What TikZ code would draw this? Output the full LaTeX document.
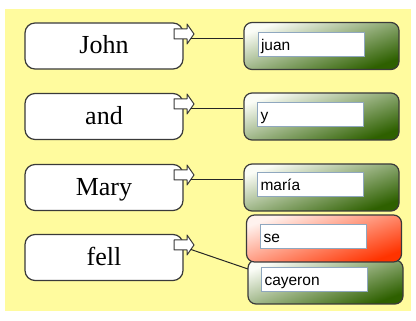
\documentclass[tikz,border=0pt]{standalone}
\usepackage{fontspec}
\setmainfont{Liberation Serif}
\newfontfamily\fieldfont{Liberation Sans}
\definecolor{bgyellow}{RGB}{255,251,158}
\definecolor{boxline}{RGB}{58,58,58}
\definecolor{gdark}{RGB}{46,96,0}
\definecolor{glight}{RGB}{250,252,246}
\definecolor{rdark}{RGB}{255,51,0}
\definecolor{rlight}{RGB}{255,242,238}
\definecolor{fieldline}{RGB}{143,167,191}
\begin{document}
\begin{tikzpicture}[x=1pt,y=-1pt,
  wordbox/.style={draw=boxline, line width=1.2pt, fill=white, rounded corners=10pt,
    minimum width=158pt, minimum height=46pt, inner sep=0pt,
    text height=20pt, text depth=4pt, font=\fontsize{26}{30}\selectfont},
  transbox/.style={draw=boxline, line width=1.2pt, rounded corners=8pt,
    minimum width=155pt, minimum height=47pt, inner sep=0pt},
  greenbox/.style={transbox, top color=glight, bottom color=gdark, shading angle=20},
  redbox/.style={transbox, top color=rlight, bottom color=rdark, shading angle=20},
  field/.style={draw=fieldline, line width=1pt, fill=white,
    text width=100pt, align=left, inner xsep=3pt, inner ysep=0pt,
    minimum height=24pt, text height=15pt, text depth=3pt,
    font=\fieldfont\fontsize{15.5}{18}\selectfont},
  conn/.style={draw=black!85, line width=1pt},
  blockarrow/.pic={
    \draw[draw=boxline, line width=1pt, fill=white, line join=round]
      (0,-5) -- (13,-5) -- (13,-10) -- (20,0) -- (13,10) -- (13,5) -- (0,5) -- cycle;
    \coordinate (-out) at (17,4.5);
  }
]
\useasboundingbox (0,0) rectangle (416,321);
\fill[bgyellow] (5,9) rectangle (411,311);

% source word boxes
\node[wordbox] (wJ) at (104,46) {John};
\node[wordbox] (wA) at (104,116.5) {and};
\node[wordbox] (wM) at (104,187.5) {Mary};
\node[wordbox] (wF) at (104,257.5) {fell};

% arrows on the word boxes
\pic (aJ) at (174,34) {blockarrow};
\pic (aA) at (174,104) {blockarrow};
\pic (aM) at (174,175) {blockarrow};
\pic (aF) at (174,245) {blockarrow};

% target boxes
\node[greenbox] (gJ) at (321.5,46) {};
\node[greenbox] (gA) at (321.5,116.5) {};
\node[greenbox] (gM) at (321.5,187.5) {};
\node[greenbox, minimum height=44pt] (gC) at (325.5,282) {};
\node[redbox] (gS) at (324,238.5) {};

% connectors
\coordinate (cIn) at (248,269);
\draw[conn] (aJ-out) -- (gJ.west |- aJ-out);
\draw[conn] (aA-out) -- (gA.west |- aA-out);
\draw[conn] (aM-out) -- (gM.west |- aM-out);
\draw[conn] (aF-out) -- (cIn);

% text fields
\node[field] (fJ) at (311,45) {juan};
\node[field] (fA) at (310.5,115) {y};
\node[field] (fM) at (310.5,185) {maría};
\node[field] (fS) at (313.5,236.5) {se};
\node[field] (fC) at (314.5,279.5) {cayeron};
\end{tikzpicture}
\end{document}
